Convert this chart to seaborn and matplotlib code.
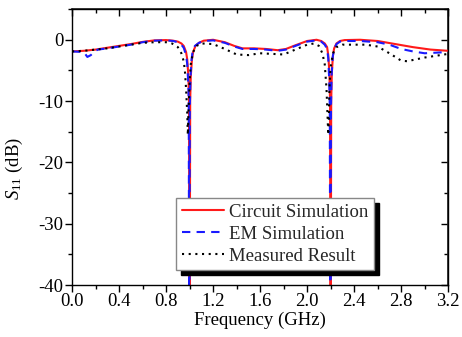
import numpy as np
import pandas as pd
import matplotlib
matplotlib.use('Agg')
import matplotlib.pyplot as plt
from matplotlib.ticker import MultipleLocator
import seaborn as sns

# Circuit simulation
freq_circ = [0.0, 0.1, 0.2, 0.3, 0.4, 0.5, 0.6, 0.7, 0.8, 0.86, 0.9, 0.93, 0.95, 0.97, 0.98,
             0.99, 0.995, 1.0, 1.005, 1.01, 1.02, 1.03, 1.05, 1.08, 1.12, 1.2, 1.3, 1.38,
             1.45, 1.55, 1.65, 1.75, 1.82, 1.9, 2.0, 2.08, 2.12, 2.15, 2.17, 2.18, 2.19,
             2.195, 2.2, 2.205, 2.21, 2.22, 2.23, 2.25, 2.28, 2.32, 2.45, 2.6, 2.75, 2.9,
             3.05, 3.2]
s11_circ = [-1.9, -1.8, -1.6, -1.3, -1.0, -0.7, -0.35, -0.1, -0.05, -0.15, -0.3, -0.6, -1.0,
            -2.0, -3.2, -6.0, -10.0, -60.0, -10.0, -6.0, -3.2, -2.0, -1.0, -0.5, -0.15, 0.0,
            -0.4, -1.0, -1.4, -1.4, -1.5, -1.7, -1.5, -0.9, -0.2, 0.0, -0.2, -0.6, -1.2,
            -2.5, -5.5, -10.0, -60.0, -10.0, -5.5, -2.5, -1.4, -0.6, -0.2, -0.05, 0.0,
            -0.2, -0.7, -1.2, -1.6, -1.8]

# EM simulation
freq_em = [0.0, 0.1, 0.13, 0.16, 0.19, 0.22, 0.3, 0.4, 0.5, 0.6, 0.7, 0.8, 0.86, 0.9, 0.93,
           0.95, 0.97, 0.98, 0.99, 0.993, 0.997, 1.002, 1.007, 1.015, 1.025, 1.045, 1.08,
           1.12, 1.2, 1.3, 1.38, 1.45, 1.55, 1.65, 1.75, 1.82, 1.9, 2.0, 2.08, 2.12, 2.15,
           2.17, 2.18, 2.188, 2.193, 2.198, 2.203, 2.208, 2.218, 2.23, 2.25, 2.28, 2.32,
           2.45, 2.6, 2.7, 2.8, 2.9, 3.0, 3.1, 3.2]
s11_em = [-1.9, -2.0, -2.8, -2.5, -1.9, -1.6, -1.4, -1.1, -0.8, -0.4, -0.15, -0.1, -0.2, -0.4,
          -0.8, -1.3, -2.5, -4.0, -7.5, -11.0, -60.0, -11.0, -6.5, -3.5, -2.0, -1.0, -0.5,
          -0.2, -0.1, -0.5, -1.1, -1.5, -1.5, -1.6, -1.8, -1.6, -1.0, -0.3, -0.1, -0.3,
          -0.8, -1.5, -3.0, -6.5, -11.0, -60.0, -11.0, -6.0, -2.8, -1.5, -0.7, -0.3, -0.2,
          -0.2, -0.4, -0.8, -1.5, -1.9, -2.2, -2.1, -2.0]

# Measured result
freq_meas = [0.0, 0.1, 0.2, 0.3, 0.4, 0.5, 0.6, 0.7, 0.8, 0.85, 0.9, 0.93, 0.95, 0.96, 0.97,
             0.98, 0.985, 0.99, 1.0, 1.01, 1.03, 1.06, 1.1, 1.2, 1.3, 1.4, 1.5, 1.6, 1.7,
             1.8, 1.9, 2.0, 2.06, 2.1, 2.13, 2.15, 2.165, 2.175, 2.18, 2.185, 2.19, 2.2,
             2.22, 2.25, 2.3, 2.5, 2.6, 2.7, 2.8, 2.85, 2.9, 3.0, 3.1, 3.2]
s11_meas = [-1.9, -1.8, -1.6, -1.4, -1.1, -0.8, -0.5, -0.4, -0.4, -0.6, -1.2, -2.2, -3.5,
            -5.0, -8.0, -12.0, -15.5, -12.0, -7.0, -4.0, -2.0, -1.0, -0.6, -0.7, -1.5, -2.4,
            -2.5, -2.2, -2.3, -2.4, -1.6, -0.8, -0.6, -1.0, -2.2, -4.0, -8.0, -13.0, -15.5,
            -13.0, -8.0, -4.5, -2.2, -1.2, -0.8, -0.8, -1.1, -2.2, -3.4, -3.5, -3.3, -2.9,
            -2.6, -2.3]

sns.set_theme(style='ticks')
plt.rcParams['font.family'] = ['Liberation Serif', 'DejaVu Serif']
plt.rcParams['mathtext.fontset'] = 'custom'
plt.rcParams['mathtext.rm'] = 'Liberation Serif'
plt.rcParams['mathtext.it'] = 'Liberation Serif:italic'
plt.rcParams['axes.unicode_minus'] = False

fs = 13.5

fig = plt.figure(figsize=(4.62, 3.37), dpi=100)
ax = fig.add_axes([0.156, 0.154, 0.814, 0.819])

sns.lineplot(x=freq_circ, y=s11_circ, color='#ff1a1a', lw=1.5, ax=ax,
             label='Circuit Simulation')
sns.lineplot(x=freq_em, y=s11_em, color='#1a1aff', lw=1.5, ls=(0, (4, 3)), ax=ax,
             label='EM Simulation')
sns.lineplot(x=freq_meas, y=s11_meas, color='black', lw=1.5, ls=(0, (1, 2.2)), ax=ax,
             label='Measured Result')

ax.set_xlim(0, 3.2)
ax.set_ylim(-40, 5)
ax.xaxis.set_major_locator(MultipleLocator(0.4))
ax.xaxis.set_minor_locator(MultipleLocator(0.2))
ax.yaxis.set_major_locator(MultipleLocator(10))
ax.yaxis.set_minor_locator(MultipleLocator(5))
ax.xaxis.set_major_formatter(matplotlib.ticker.FormatStrFormatter('%.1f'))
ax.tick_params(which='major', direction='out', length=5, width=1, labelsize=fs,
               color='black', labelcolor='black', pad=1)
ax.tick_params(which='minor', direction='out', length=3, width=1, color='black')
for s in ax.spines.values():
    s.set_color('black')
    s.set_linewidth(1)

top = ax.secondary_xaxis('top')
top.xaxis.set_major_locator(MultipleLocator(0.4))
top.xaxis.set_minor_locator(MultipleLocator(0.2))
top.tick_params(which='major', direction='in', length=5, width=1, labeltop=False, color='black')
top.tick_params(which='minor', direction='in', length=3, width=1, color='black')
right = ax.secondary_yaxis('right')
right.yaxis.set_major_locator(MultipleLocator(10))
right.yaxis.set_minor_locator(MultipleLocator(5))
right.tick_params(which='major', direction='in', length=5, width=1, labelright=False, color='black')
right.tick_params(which='minor', direction='in', length=3, width=1, color='black')

ax.set_xlabel('Frequency (GHz)', fontsize=fs, color='black', labelpad=1)
ax.set_ylabel(r'$S_{11}$ (dB)', fontsize=fs, color='black')
ax.yaxis.set_label_coords(-0.125, 0.424)

leg = ax.legend(loc='lower left', bbox_to_anchor=(0.2766, 0.054), borderaxespad=0,
                fontsize=fs, handlelength=2.25, handletextpad=0.27, labelspacing=0.25,
                borderpad=0.3, fancybox=False, framealpha=1,
                shadow={'color': 'black', 'alpha': 1, 'ox': 3.5, 'oy': -3.5})
leg.get_frame().set_edgecolor('#888888')
leg.get_frame().set_linewidth(1)

fig.savefig('out.png', dpi=100)
